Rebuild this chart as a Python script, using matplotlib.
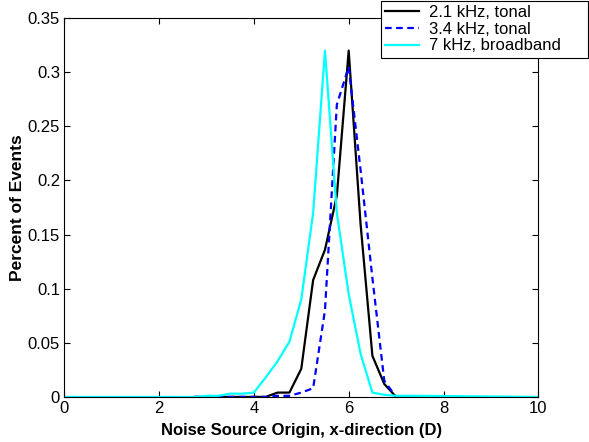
import matplotlib
matplotlib.use('Agg')
import matplotlib.pyplot as plt

plt.rcParams['font.family'] = ['Liberation Sans', 'DejaVu Sans']

# bin centres (D) and fraction of events in each bin
x_tonal = [2.75, 3.0, 3.25, 3.5, 3.75, 4.0, 4.25, 4.5, 4.75, 5.0,
           5.25, 5.5, 5.75, 6.0, 6.25, 6.5, 6.75, 7.0, 7.25, 7.5]
y_21khz = [0, 0, 0, 0, 0, 0, 0, 0.004, 0.004, 0.026,
           0.108, 0.136, 0.186, 0.32, 0.16, 0.038, 0.012, 0, 0, 0]
y_34khz = [0, 0, 0, 0, 0, 0, 0, 0.001, 0.001, 0.004,
           0.008, 0.08, 0.27, 0.305, 0.21, 0.11, 0.015, 0, 0, 0]

x_broad = [0, 2.75, 3.0, 3.25, 3.5, 3.75, 4.0, 4.25, 4.5, 4.75, 5.0,
           5.25, 5.5, 5.75, 6.0, 6.25, 6.5, 6.75, 7.0, 7.25, 7.5, 10]
y_7khz = [0, 0, 0.001, 0.001, 0.003, 0.003, 0.004, 0.018, 0.033, 0.051, 0.09,
          0.17, 0.32, 0.17, 0.095, 0.04, 0.004, 0.002, 0.001, 0.001, 0.001, 0]

labels = ['2.1 kHz, tonal', '3.4 kHz, tonal', '7 kHz, broadband']

fig = plt.figure(figsize=(5.89, 4.42), dpi=100)
ax = fig.add_axes([0.109, 0.102, 0.805, 0.857])

ax.plot(x_tonal, y_21khz, color='black', lw=1.6, label=labels[0])
ax.plot(x_tonal, y_34khz, color='#0000ff', lw=1.6, ls=(0, (3, 2)), label=labels[1])
ax.plot(x_broad, y_7khz, color='#00ffff', lw=1.6, label=labels[2])

ax.set_xlim(0, 10)
ax.set_ylim(0, 0.35)
ax.set_xticks([0, 2, 4, 6, 8, 10])
ax.set_yticks([0, 0.05, 0.1, 0.15, 0.2, 0.25, 0.3, 0.35])
ax.set_yticklabels(['0', '0.05', '0.1', '0.15', '0.2', '0.25', '0.3', '0.35'])
ax.tick_params(direction='in', top=True, right=True, labelsize=12, length=4, width=0.8, pad=3)
for s in ax.spines.values():
    s.set_linewidth(0.8)

ax.set_xlabel('Noise Source Origin, x-direction (D)', fontsize=12, fontweight='bold', labelpad=5)
ax.set_ylabel('Percent of Events', fontsize=12.5, fontweight='bold', labelpad=2)

# legend box sits in the top right corner, partly over the axes
leg = fig.legend(loc='upper left', bbox_to_anchor=(0.647, 0.0, 0.351, 0.998), mode='expand',
                 fontsize=12, fancybox=False, framealpha=1, edgecolor='black',
                 handlelength=2.0, labelspacing=0.1, borderpad=0.25, handletextpad=0.6,
                 borderaxespad=0)
leg.get_frame().set_linewidth(0.8)

fig.savefig('out.png', dpi=100)
